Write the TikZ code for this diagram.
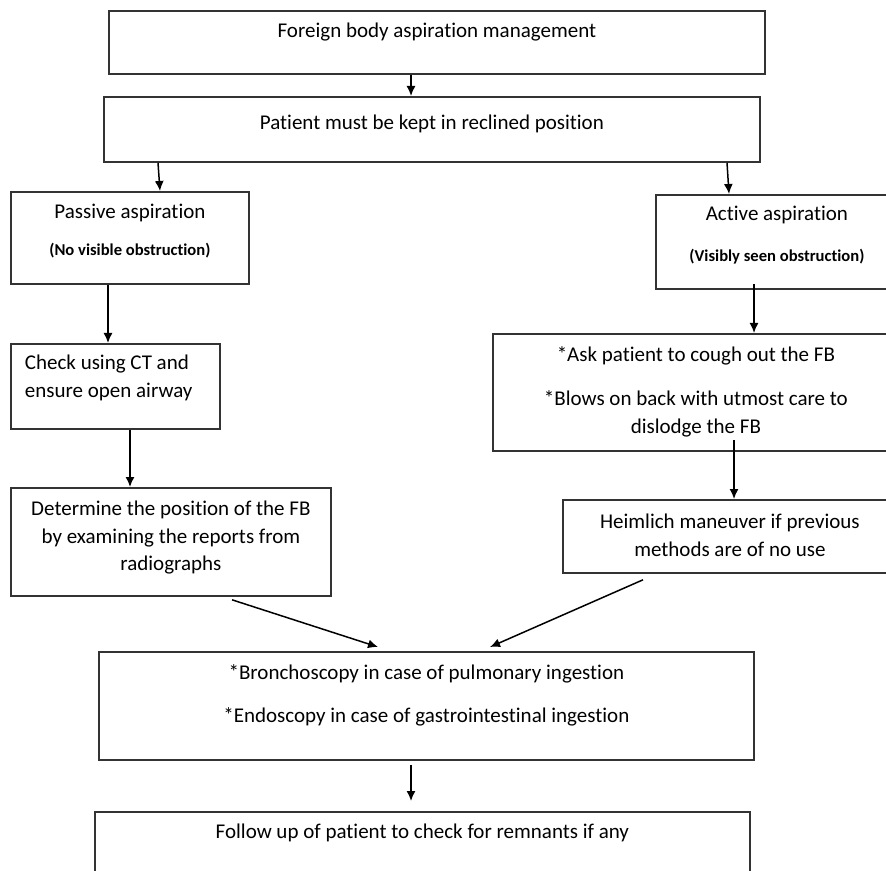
\documentclass[tikz,border=0pt]{standalone}
\usepackage{fontspec}
\setmainfont[Ligatures=NoCommon]{Carlito}
\usetikzlibrary{arrows.meta,calc}

% text block of fixed size: width, height, top gap, lines
\newcommand{\boxtext}[4]{\parbox[t][#2][t]{#1}{\centering\vspace*{#3}#4}}
\newcommand{\smalltxt}{\fontsize{8.3}{10}\selectfont\bfseries}

\tikzset{
    box/.style={draw=black!80, line width=0.9pt, inner sep=0pt, anchor=north west,
        font=\fontsize{10.5}{13.75}\selectfont},
    arrow/.style={-{Latex[length=5pt,width=4.5pt]}, line width=0.75pt}
}

\begin{document}
\begin{tikzpicture}[x=0.5pt, y=-0.5pt]
        \useasboundingbox (0,0) rectangle (886,870);
        \clip (0,0) rectangle (886,870);
        % top
        \node[box] (top) at (108,10) {\boxtext{328pt}{31.5pt}{3.9pt}{\strut Foreign body aspiration management}};
        \node[box] (reclined) at (103,96) {\boxtext{328pt}{32.5pt}{6.9pt}{\strut Patient must be kept in reclined position}};
        % passive side
        \node[box] (passive) at (10,191) {\boxtext{119pt}{46pt}{3.9pt}{\strut Passive aspiration\\[4.5pt] {\smalltxt (No visible obstruction)}}};
        \node[box] (check) at (10,343) {\boxtext{104.5pt}{42.5pt}{3.4pt}{\raggedright\leftskip=7pt \strut Check using CT and\\ \strut ensure open airway}};
        \node[box] (determine) at (10,487) {\boxtext{160pt}{54pt}{4.4pt}{\strut Determine the position of the FB\\ \strut by examining the reports from\\ \strut radiographs}};
        % active side
        \node[box] (active) at (655,194) {\boxtext{121pt}{47pt}{3.4pt}{\strut Active aspiration\\[6.5pt] {\smalltxt (Visibly seen obstruction)}}};
        \node[box] (ask) at (492,333) {\boxtext{203pt}{58.5pt}{4.4pt}{\strut *Ask patient to cough out the FB\\[8.25pt] \strut *Blows on back with utmost care to\\ \strut dislodge the FB}};
        \node[box] (heimlich) at (562,499) {\boxtext{167pt}{36.5pt}{4.9pt}{\strut Heimlich maneuver if previous\\ \strut methods are of no use}};
        % bottom
        \node[box] (bronch) at (98,651) {\boxtext{327.5pt}{54pt}{4.4pt}{\strut *Bronchoscopy in case of pulmonary ingestion\\[7.75pt] \strut *Endoscopy in case of gastrointestinal ingestion}};
        \node[box] (follow) at (94,811) {\boxtext{327.5pt}{50pt}{3.9pt}{\strut Follow up of patient to check for remnants if any}};
        % arrows
        \draw[arrow] (top.south -| 411,0) -- (reclined.north -| 411,0);
        \draw[arrow] (reclined.south -| 158,0) -- (passive.north -| 160,0);
        \draw[arrow] (reclined.south -| 727,0) -- (active.north -| 729,0);
        \draw[arrow] (passive.south -| 108,0) -- (check.north -| 108,0);
        \draw[arrow] (check.south -| 130,0) -- (determine.north -| 130,0);
        \draw[arrow] ($(active.south -| 754,0)+(0,-6)$) -- (ask.north -| 754,0);
        \draw[arrow] ($(ask.south -| 734,0)+(0,-12)$) -- (heimlich.north -| 734,0);
        \draw[arrow] ($(determine.south -| 232,0)+(0,3)$) -- ($(bronch.north -| 378,0)+(0,-4)$);
        \draw[arrow] ($(heimlich.south -| 643,0)+(0,6)$) -- ($(bronch.north -| 490,0)+(0,-4)$);
        \draw[arrow] ($(bronch.south -| 411,0)+(0,4)$) -- ($(follow.north -| 411,0)+(0,-10)$);
    \end{tikzpicture}
\end{document}
